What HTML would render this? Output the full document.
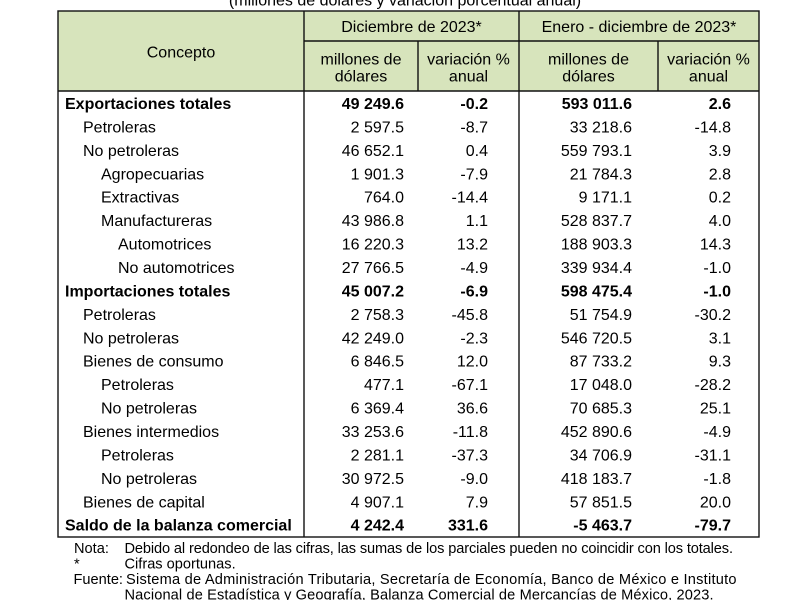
<!DOCTYPE html>
<html>
<head>
<meta charset="utf-8">
<style>
  html,body{margin:0;padding:0;background:#fff;}
  svg{display:block;}
  text{font-family:"Liberation Sans",Arial,sans-serif;font-size:16px;fill:#000;}
  .b{font-weight:bold;}
  .m{text-anchor:middle;}
  .r{text-anchor:end;}
  .n{font-size:14.6px;}
</style>
</head>
<body>
<svg width="800" height="600" viewBox="0 0 800 600" xmlns="http://www.w3.org/2000/svg">
  <!-- title (cut off) -->
  <text x="405" y="5.5" class="m">(millones de dólares y variación porcentual anual)</text>

  <!-- header fill -->
  <rect x="58" y="11" width="701" height="80" fill="#d7e4bc"/>

  <!-- lines -->
  <g stroke="#111" stroke-width="1.4" fill="none">
    <rect x="58" y="11" width="701" height="526"/>
    <line x1="304" y1="41" x2="759" y2="41"/>
    <line x1="58" y1="91" x2="759" y2="91"/>
    <line x1="304" y1="11" x2="304" y2="537"/>
    <line x1="519" y1="11" x2="519" y2="537"/>
    <line x1="418" y1="41" x2="418" y2="91"/>
    <line x1="658" y1="41" x2="658" y2="91"/>
  </g>

  <!-- header text -->
  <text x="181" y="57.5" class="m">Concepto</text>
  <text x="411.5" y="32" class="m">Diciembre de 2023*</text>
  <text x="639" y="32" class="m">Enero - diciembre de 2023*</text>
  <text x="361" y="64.5" class="m">millones de</text>
  <text x="361" y="81.5" class="m">dólares</text>
  <text x="468.5" y="64.5" class="m">variación %</text>
  <text x="468.5" y="81.5" class="m">anual</text>
  <text x="588.5" y="64.5" class="m">millones de</text>
  <text x="588.5" y="81.5" class="m">dólares</text>
  <text x="708.5" y="64.5" class="m">variación %</text>
  <text x="708.5" y="81.5" class="m">anual</text>

  <!-- body rows -->
  <g>
    <text x="65" y="109" class="b">Exportaciones totales</text>
    <text x="404" y="109" class="r b">49 249.6</text><text x="488" y="109" class="r b">-0.2</text><text x="632" y="109" class="r b">593 011.6</text><text x="731" y="109" class="r b">2.6</text>

    <text x="83" y="132.4">Petroleras</text>
    <text x="404" y="132.4" class="r">2 597.5</text><text x="488" y="132.4" class="r">-8.7</text><text x="632" y="132.4" class="r">33 218.6</text><text x="731" y="132.4" class="r">-14.8</text>

    <text x="83" y="155.9">No petroleras</text>
    <text x="404" y="155.9" class="r">46 652.1</text><text x="488" y="155.9" class="r">0.4</text><text x="632" y="155.9" class="r">559 793.1</text><text x="731" y="155.9" class="r">3.9</text>

    <text x="101" y="179.3">Agropecuarias</text>
    <text x="404" y="179.3" class="r">1 901.3</text><text x="488" y="179.3" class="r">-7.9</text><text x="632" y="179.3" class="r">21 784.3</text><text x="731" y="179.3" class="r">2.8</text>

    <text x="101" y="202.7">Extractivas</text>
    <text x="404" y="202.7" class="r">764.0</text><text x="488" y="202.7" class="r">-14.4</text><text x="632" y="202.7" class="r">9 171.1</text><text x="731" y="202.7" class="r">0.2</text>

    <text x="101" y="226.2">Manufactureras</text>
    <text x="404" y="226.2" class="r">43 986.8</text><text x="488" y="226.2" class="r">1.1</text><text x="632" y="226.2" class="r">528 837.7</text><text x="731" y="226.2" class="r">4.0</text>

    <text x="118" y="249.6">Automotrices</text>
    <text x="404" y="249.6" class="r">16 220.3</text><text x="488" y="249.6" class="r">13.2</text><text x="632" y="249.6" class="r">188 903.3</text><text x="731" y="249.6" class="r">14.3</text>

    <text x="118" y="273">No automotrices</text>
    <text x="404" y="273" class="r">27 766.5</text><text x="488" y="273" class="r">-4.9</text><text x="632" y="273" class="r">339 934.4</text><text x="731" y="273" class="r">-1.0</text>

    <text x="65" y="296.4" class="b">Importaciones totales</text>
    <text x="404" y="296.4" class="r b">45 007.2</text><text x="488" y="296.4" class="r b">-6.9</text><text x="632" y="296.4" class="r b">598 475.4</text><text x="731" y="296.4" class="r b">-1.0</text>

    <text x="83" y="319.9">Petroleras</text>
    <text x="404" y="319.9" class="r">2 758.3</text><text x="488" y="319.9" class="r">-45.8</text><text x="632" y="319.9" class="r">51 754.9</text><text x="731" y="319.9" class="r">-30.2</text>

    <text x="83" y="343.3">No petroleras</text>
    <text x="404" y="343.3" class="r">42 249.0</text><text x="488" y="343.3" class="r">-2.3</text><text x="632" y="343.3" class="r">546 720.5</text><text x="731" y="343.3" class="r">3.1</text>

    <text x="83" y="366.7">Bienes de consumo</text>
    <text x="404" y="366.7" class="r">6 846.5</text><text x="488" y="366.7" class="r">12.0</text><text x="632" y="366.7" class="r">87 733.2</text><text x="731" y="366.7" class="r">9.3</text>

    <text x="101" y="390.2">Petroleras</text>
    <text x="404" y="390.2" class="r">477.1</text><text x="488" y="390.2" class="r">-67.1</text><text x="632" y="390.2" class="r">17 048.0</text><text x="731" y="390.2" class="r">-28.2</text>

    <text x="101" y="413.6">No petroleras</text>
    <text x="404" y="413.6" class="r">6 369.4</text><text x="488" y="413.6" class="r">36.6</text><text x="632" y="413.6" class="r">70 685.3</text><text x="731" y="413.6" class="r">25.1</text>

    <text x="83" y="437">Bienes intermedios</text>
    <text x="404" y="437" class="r">33 253.6</text><text x="488" y="437" class="r">-11.8</text><text x="632" y="437" class="r">452 890.6</text><text x="731" y="437" class="r">-4.9</text>

    <text x="101" y="460.5">Petroleras</text>
    <text x="404" y="460.5" class="r">2 281.1</text><text x="488" y="460.5" class="r">-37.3</text><text x="632" y="460.5" class="r">34 706.9</text><text x="731" y="460.5" class="r">-31.1</text>

    <text x="101" y="483.9">No petroleras</text>
    <text x="404" y="483.9" class="r">30 972.5</text><text x="488" y="483.9" class="r">-9.0</text><text x="632" y="483.9" class="r">418 183.7</text><text x="731" y="483.9" class="r">-1.8</text>

    <text x="83" y="507.3">Bienes de capital</text>
    <text x="404" y="507.3" class="r">4 907.1</text><text x="488" y="507.3" class="r">7.9</text><text x="632" y="507.3" class="r">57 851.5</text><text x="731" y="507.3" class="r">20.0</text>

    <text x="65" y="530.7" class="b">Saldo de la balanza comercial</text>
    <text x="404" y="530.7" class="r b">4 242.4</text><text x="488" y="530.7" class="r b">331.6</text><text x="632" y="530.7" class="r b">-5 463.7</text><text x="731" y="530.7" class="r b">-79.7</text>
  </g>

  <!-- notes -->
  <text x="74" y="553" class="n">Nota:</text>
  <text x="124.5" y="553" class="n" textLength="608.5" lengthAdjust="spacing">Debido al redondeo de las cifras, las sumas de los parciales pueden no coincidir con los totales.</text>
  <text x="74" y="568.5" class="n">*</text>
  <text x="124.5" y="568.5" class="n">Cifras oportunas.</text>
  <text x="73.5" y="584" class="n">Fuente:</text>
  <text x="126" y="584" class="n" textLength="610.5" lengthAdjust="spacing">Sistema de Administración Tributaria, Secretaría de Economía, Banco de México e Instituto</text>
  <text x="124.5" y="599.5" class="n" textLength="589" lengthAdjust="spacing">Nacional de Estadística y Geografía, Balanza Comercial de Mercancías de México, 2023.</text>
</svg>
</body>
</html>
